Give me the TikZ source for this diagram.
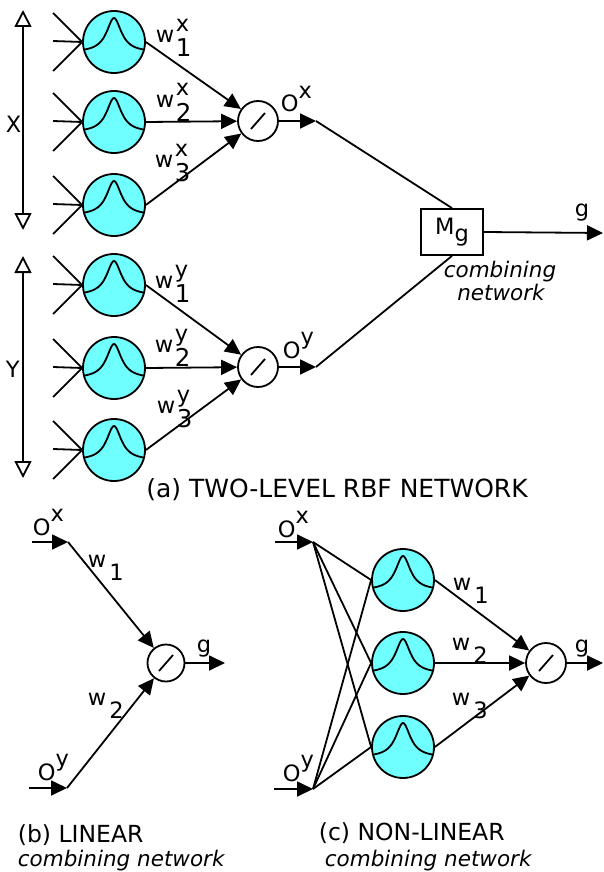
\documentclass[tikz,border=0pt]{standalone}
\usepackage{fontspec}
\setmainfont{DejaVu Sans}
\usetikzlibrary{arrows.meta}
\definecolor{rbfcyan}{RGB}{112,255,255}
\newcommand\wsb[2]{w\hspace{1.5pt}\rlap{\raisebox{-14pt}{\fontsize{24.5}{26}\selectfont #2}}\raisebox{11pt}{#1}}
\newcommand\wsu[1]{w\hspace{3pt}\raisebox{-13pt}{#1}}
\newcommand\Osp[1]{O\raisebox{13.5pt}{#1}}
\begin{document}
\begin{tikzpicture}[x=1pt,y=-1pt, font=\fontsize{22.5}{26}\selectfont, line width=1.8pt,
 rbfnode/.style={circle, draw, fill=rbfcyan, minimum size=62pt, inner sep=0pt,
   path picture={\draw[line width=1.8pt, shift={(path picture bounding box.center)}] plot[domain=-33:33, samples=67, smooth] (\x,{10.5-34.5/(1+(\x/9)^2)});}},
 sumnode/.style={circle, draw, fill=white, minimum size=40pt, inner sep=0pt,
   path picture={\draw[line width=1.8pt, shift={(path picture bounding box.center)}] (-7,8) -- (7,-8);}},
 tri/.style={-{Triangle[length=16pt,width=15pt]}},
 otri/.style={{Triangle[open,fill=white,length=17pt,width=17pt]}-{Triangle[open,fill=white,length=17pt,width=17pt]}},
 lbl/.style={anchor=base west, inner sep=0pt},
 capfont/.style={font=\fontsize{23.5}{26}\selectfont},
 itfont/.style={font=\fontsize{21.5}{24}\selectfont\itshape},
]
\useasboundingbox (0,0) rectangle (603,872);

% ---------- (a) ----------
\node[rbfnode] (x1) at (114,42) {};
\node[rbfnode] (x2) at (114,122) {};
\node[rbfnode] (x3) at (114,205) {};
\node[rbfnode] (y1) at (114,285) {};
\node[rbfnode] (y2) at (114,368) {};
\node[rbfnode] (y3) at (114,450) {};
\foreach \n in {x1,x2,x3,y1,y2,y3} {
  \draw (\n.west) -- ++(-29,-29);
  \draw (\n.west) -- ++(-29,-1);
  \draw (\n.west) -- ++(-29,29);
}
\coordinate (xt) at (23,10);
\coordinate (xb) at (23,230);
\draw[otri] (xt) -- (xb);
\node[lbl] (xl) at (5,132) {X};
\coordinate (yt) at (23,256);
\coordinate (yb) at (23,478);
\draw[otri] (yt) -- (yb);
\node[lbl] (yl) at (5,377) {Y};

\node[sumnode] (sx) at (258,121) {};
\node[sumnode] (sy) at (258,367) {};
\foreach \n in {x1,x2,x3} \draw[tri] (\n.east) -- (sx);
\foreach \n in {y1,y2,y3} \draw[tri] (\n.east) -- (sy);

\node[lbl] (wx1) at (155,43) {\wsb{x}{1}};
\node[lbl] (wx2) at (155,107) {\wsb{x}{2}};
\node[lbl] (wx3) at (154,167) {\wsb{x}{3}};
\node[lbl] (wy1) at (154,288) {\wsb{y}{1}};
\node[lbl] (wy2) at (154,352) {\wsb{y}{2}};
\node[lbl] (wy3) at (156,413) {\wsb{y}{3}};

\coordinate (ox) at (316,121);
\coordinate (oy) at (316,367);
\draw[tri] (sx) -- (ox);
\draw[tri] (sy) -- (oy);
\node[lbl] (oxl) at (280,112) {\Osp{x}};
\node[lbl] (oyl) at (282,358) {\Osp{y}};

\node[draw, fill=white, minimum width=62pt, minimum height=46pt, inner sep=0pt] (mg) at (452,232) {M\raisebox{-7pt}{g}};
\draw (ox) -- (mg.north);
\draw (oy) -- (mg.south);
\coordinate (gout) at (603,233);
\draw[tri] (mg.east) -- (gout);
\node[lbl] (gl) at (574,216) {g};
\node[anchor=base, inner sep=0pt, itfont] (cn1) at (500,277) {combining};
\node[anchor=base, inner sep=0pt, itfont] (cn2) at (501,300) {network};

\node[anchor=base, inner sep=0pt, font=\fontsize{25}{28}\selectfont] (ta) at (337,497) {(a) TWO-LEVEL RBF NETWORK};

% ---------- (b) ----------
\node[sumnode, minimum size=37pt] (sb) at (166,663) {};
\coordinate (bxs) at (32,542);
\coordinate (bx) at (68,542);
\coordinate (bys) at (29,788);
\coordinate (by) at (67,788);
\draw[tri] (bxs) -- (bx);
\draw[tri] (bx) -- (sb);
\draw[tri] (bys) -- (by);
\draw[tri] (by) -- (sb);
\coordinate (bg) at (225,663);
\draw[tri] (sb) -- (bg);
\node[lbl] (bgl) at (196,652) {g};
\node[lbl] (bxl) at (32,535) {\Osp{x}};
\node[lbl] (byl) at (37,780) {\Osp{y}};
\node[lbl] (bw1) at (87,567) {\wsu{1}};
\node[lbl] (bw2) at (87,705) {\wsu{2}};
\node[lbl, capfont] (tb1) at (17,842) {(b) LINEAR};
\node[lbl, itfont] (tb2) at (17,866) {combining network};

% ---------- (c) ----------
\node[rbfnode] (c1) at (403,580) {};
\node[rbfnode] (c2) at (403,663) {};
\node[rbfnode] (c3) at (403,747) {};
\coordinate (cxs) at (275,542);
\coordinate (cx) at (313,542);
\coordinate (cys) at (274,789);
\coordinate (cy) at (313,789);
\draw[tri] (cxs) -- (cx);
\draw[tri] (cys) -- (cy);
\foreach \n in {c1,c2,c3} {
  \draw (cx) -- (\n.west);
  \draw (cy) -- (\n.west);
}
\node[sumnode] (sc) at (546,663) {};
\foreach \n in {c1,c2,c3} \draw[tri] (\n.east) -- (sc);
\coordinate (cg) at (603,663);
\draw[tri] (sc) -- (cg);
\node[lbl] (cgl) at (574,652) {g};
\node[lbl] (cxl) at (277,537) {\Osp{x}};
\node[lbl] (cyl) at (282,781) {\Osp{y}};
\node[lbl] (cw1) at (452,590) {\wsu{1}};
\node[lbl] (cw2) at (451,650) {\wsu{2}};
\node[lbl] (cw3) at (451,705) {\wsu{3}};
\node[lbl, capfont] (tc1) at (318,840) {(c) NON-LINEAR};
\node[lbl, itfont] (tc2) at (324,866) {combining network};
\end{tikzpicture}
\end{document}
